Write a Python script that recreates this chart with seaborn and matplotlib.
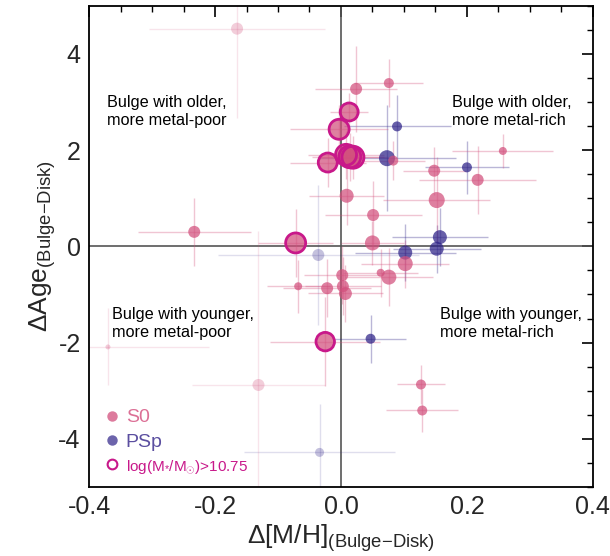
import numpy as np
import pandas as pd
import matplotlib
matplotlib.use("Agg")
import matplotlib.pyplot as plt
from matplotlib.lines import Line2D
import seaborn as sns

# ---------------- data ----------------
kind = ['S0', 'S0', 'S0', 'S0', 'S0', 'PSp', 'S0', 'S0', 'S0', 'S0',
        'PSp', 'S0', 'S0', 'PSp', 'S0', 'S0', 'S0', 'S0', 'S0', 'PSp',
        'PSp', 'PSp', 'S0', 'S0', 'S0', 'PSp', 'S0', 'S0', 'S0', 'S0',
        'S0', 'S0', 'S0', 'S0', 'S0', 'PSp', 'S0', 'S0', 'S0', 'S0', 'PSp']
d_mh = [-0.165, 0.024, 0.076, 0.013, -0.003, 0.089, 0.008, 0.014, 0.019, -0.021,
        0.073, 0.083, 0.148, 0.200, 0.257, 0.217, 0.152, 0.009, 0.051, 0.157,
        0.152, 0.102, 0.102, 0.050, -0.072, -0.036, -0.233, -0.068, -0.022, 0.002,
        0.003, 0.007, 0.063, 0.076, -0.025, 0.047, -0.370, -0.131, 0.127, 0.129, -0.034]
d_age = [4.52, 3.27, 3.39, 2.79, 2.43, 2.49, 1.90, 1.86, 1.85, 1.74,
         1.83, 1.78, 1.57, 1.64, 1.98, 1.38, 0.96, 1.05, 0.65, 0.19,
         -0.05, -0.13, -0.36, 0.07, 0.07, -0.18, 0.30, -0.83, -0.87, -0.60,
         -0.83, -0.98, -0.55, -0.64, -1.98, -1.92, -2.09, -2.88, -2.87, -3.41, -4.28]
d_mh_err = [0.14, 0.065, 0.055, 0.03, 0.078, 0.085, 0.06, 0.06, 0.05, 0.06,
            0.11, 0.05, 0.05, 0.066, 0.08, 0.093, 0.085, 0.06, 0.077, 0.076,
            0.07, 0.08, 0.07, 0.05, 0.06, 0.16, 0.09, 0.05, 0.07, 0.06,
            0.06, 0.06, 0.06, 0.07, 0.087, 0.057, 0.16, 0.105, 0.038, 0.057, 0.12]
d_age_err = [1.86, 0.9, 0.5, 0.4, 0.5, 0.65, 0.5, 0.5, 0.45, 0.5,
             1.1, 0.4, 0.5, 0.55, 0.35, 0.7, 0.9, 0.6, 0.7, 0.6,
             0.5, 0.6, 0.5, 0.45, 0.7, 1.45, 0.7, 0.55, 0.6, 0.6,
             0.6, 0.6, 0.5, 0.6, 0.93, 0.5, 0.8, 3.2, 0.4, 0.45, 1.0]
log_mass = [10.2, 10.2, 10.0, 10.8, 11.0, 10.0, 11.1, 11.2, 11.2, 10.9,
            10.6, 10.0, 10.2, 10.0, 9.8, 10.2, 10.6, 10.4, 10.2, 10.4,
            10.4, 10.4, 10.5, 10.5, 11.0, 10.2, 10.2, 9.8, 10.2, 10.2,
            10.2, 10.3, 9.8, 10.5, 10.85, 10.0, 9.5, 10.2, 10.0, 10.0, 9.9]
low_sn = [1, 0, 0, 0, 0, 0, 0, 0, 0, 0,
          0, 0, 0, 0, 0, 0, 0, 0, 0, 0,
          0, 0, 0, 0, 0, 1, 0, 0, 0, 0,
          0, 0, 0, 0, 0, 0, 1, 1, 0, 0, 1]
mass_cut = 10.75
quadrant_labels = ["Bulge with older,\nmore metal-poor", "Bulge with older,\nmore metal-rich",
                   "Bulge with younger,\nmore metal-poor", "Bulge with younger,\nmore metal-rich"]
x_ticks = [-0.4, -0.2, 0.0, 0.2, 0.4]
y_ticks = [-4, -2, 0, 2, 4]

df = pd.DataFrame(dict(kind=kind, dmh=d_mh, dage=d_age, xerr=d_mh_err,
                       yerr=d_age_err, logm=log_mass, faint=low_sn))

# ---------------- style ----------------
sns.set_theme(style="white")
plt.rcParams['font.family'] = ['Liberation Sans', 'DejaVu Sans']
plt.rcParams['mathtext.fontset'] = 'custom'
plt.rcParams['mathtext.rm'] = 'Liberation Sans'
plt.rcParams['mathtext.it'] = 'Liberation Sans:italic'
plt.rcParams['mathtext.bf'] = 'Liberation Sans:bold'
plt.rcParams['axes.unicode_minus'] = False

COL = {'S0': '#d24f7c', 'PSp': '#2e2388'}
RING = '#c8188a'

fig = plt.figure(figsize=(6.10, 5.56), dpi=100)
ax = fig.add_axes([0.146, 0.124, 0.826, 0.866])

ax.axhline(0, color='#555555', lw=1.2, zorder=1)
ax.axvline(0, color='#555555', lw=1.2, zorder=1)

def radius_px(m):
    return 5.0 * (m - 9.0)

size_map = {m: (1.44 * radius_px(m)) ** 2 for m in sorted(set(log_mass))}

# error bars
for (k, f), sub in df.groupby(['kind', 'faint']):
    ax.errorbar(sub['dmh'], sub['dage'], xerr=sub['xerr'], yerr=sub['yerr'],
                fmt='none', ecolor=COL[k], elinewidth=1.0,
                alpha=0.15 if f else 0.33, zorder=2)

# points
for f, alpha in [(1, 0.28), (0, 0.72)]:
    sub = df[df['faint'] == f]
    for k in ['PSp', 'S0']:
        s2 = sub[sub['kind'] == k]
        sns.scatterplot(data=s2, x='dmh', y='dage', size='logm', sizes=size_map,
                        color=COL[k], alpha=alpha, linewidth=0, legend=False,
                        ax=ax, zorder=3)

# high mass rings
big = df[df['logm'] > mass_cut]
sns.scatterplot(data=big, x='dmh', y='dage', size='logm', sizes=size_map,
                facecolors='none', edgecolor=RING, linewidth=2.0, legend=False,
                ax=ax, zorder=4)

ax.set_xlim(-0.4, 0.4)
ax.set_ylim(-5, 5)
ax.set_xticks(x_ticks)
ax.set_xticklabels([f"{v:.1f}" for v in x_ticks])
ax.set_yticks(y_ticks)
ax.set_yticklabels([f"{v:d}" for v in y_ticks])
ax.xaxis.set_minor_locator(matplotlib.ticker.MultipleLocator(0.05))
ax.yaxis.set_minor_locator(matplotlib.ticker.MultipleLocator(0.5))
ax.tick_params(which='both', direction='in', top=True, right=True, color='black')
ax.tick_params(which='major', length=8, width=1.2, labelsize=18, pad=6)
ax.tick_params(which='minor', length=4, width=1.0)
for sp in ax.spines.values():
    sp.set_color('black')
    sp.set_linewidth(1.3)

ax.set_xlabel(r'$\Delta$[M/H]$_{\rm (Bulge{-}Disk)}$', fontsize=19, labelpad=2)
ax.set_ylabel(r'$\Delta$Age$_{\rm (Bulge{-}Disk)}$', fontsize=19, labelpad=0)

tk = dict(fontsize=11.7, va='center', ha='left', color='black', linespacing=1.25)
ax.text(-0.371, 2.81, quadrant_labels[0], **tk)
ax.text(0.177, 2.81, quadrant_labels[1], **tk)
ax.text(-0.363, -1.60, quadrant_labels[2], **tk)
ax.text(0.157, -1.60, quadrant_labels[3], **tk)

handles = [Line2D([], [], ls='', marker='o', ms=7.5, mfc=COL['S0'], mec='none', alpha=0.75),
           Line2D([], [], ls='', marker='o', ms=7.5, mfc=COL['PSp'], mec='none', alpha=0.7),
           Line2D([], [], ls='', marker='o', ms=7, mfc='none', mec=RING, mew=1.5)]
labels = ['S0', 'PSp', r'log(M$_{*}$/M$_{\odot}$)>10.75']
leg = ax.legend(handles, labels, loc='lower left', bbox_to_anchor=(-0.016, -0.018),
                frameon=False, handletextpad=0.1, handlelength=1.2, borderaxespad=0.6,
                labelspacing=0.35, fontsize=14)
tcols = ['#dc7096', '#5b4fa0', RING]
for t, c in zip(leg.get_texts(), tcols):
    t.set_color(c)
leg.get_texts()[2].set_fontsize(11)

fig.savefig('out.png', dpi=100)
